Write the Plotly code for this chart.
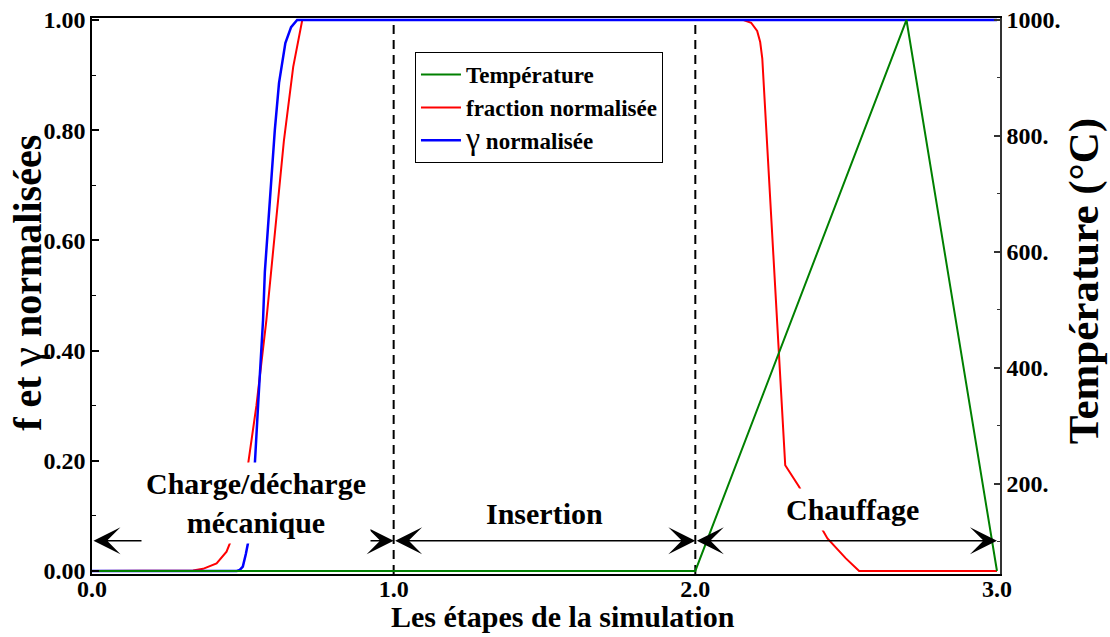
import plotly.graph_objects as go

# --- data -------------------------------------------------------------
etape_temp = [0.0, 2.0, 2.7, 3.0]
temperature = [50, 50, 1000, 50]

etape_fraction = [0.0, 0.30, 0.335, 0.368, 0.413, 0.446, 0.459, 0.48, 0.50,
                  0.5177, 0.545, 0.578, 0.603, 0.636, 0.667, 0.697,
                  2.16, 2.185, 2.205, 2.215, 2.222, 2.26, 2.298, 2.344,
                  2.39, 2.438, 2.499, 2.543, 3.0]
fraction = [0.0, 0.0, 0.001, 0.004, 0.014, 0.035, 0.053, 0.09, 0.14,
            0.195, 0.30, 0.455, 0.60, 0.78, 0.915, 1.0,
            1.0, 0.995, 0.98, 0.96, 0.93, 0.56, 0.192, 0.153,
            0.105, 0.059, 0.023, 0.0, 0.0]

etape_gamma = [0.0, 0.48, 0.49, 0.50, 0.51, 0.518, 0.53, 0.54, 0.551,
               0.567, 0.573, 0.589, 0.606, 0.62, 0.641, 0.66, 0.68, 3.0]
gamma = [0.0, 0.0, 0.002, 0.008, 0.031, 0.053, 0.12, 0.196, 0.305,
         0.455, 0.543, 0.673, 0.80, 0.886, 0.958, 0.987, 1.0, 1.0]

phase_bornes = [0.0, 1.0, 2.0, 3.0]
phase_noms = ["Charge/décharge<br>mécanique", "Insertion", "Chauffage"]
phase_label_x = [0.543, 1.5, 2.52]
phase_label_y = [0.123, 0.105, 0.112]
fleche_y = 0.055

x_ticks = [0.0, 1.0, 2.0, 3.0]
x_ticktext = ["0.0", "1.0", "2.0", "3.0"]
f_ticks = [0.0, 0.2, 0.4, 0.6, 0.8, 1.0]
f_ticktext = ["0.00", "0.20", "0.40", "0.60", "0.80", "1.00"]
t_ticks = [200, 400, 600, 800, 1000]
t_ticktext = ["200.", "400.", "600.", "800.", "1000."]

# --- figure -----------------------------------------------------------
SERIF = "Liberation Serif"


def gamma_glyph(size):
    return f'<span style="font-weight:normal;font-size:{size}px">γ</span>'


fig = go.Figure()

fig.add_trace(go.Scatter(
    x=etape_temp, y=temperature, mode="lines", name="Température",
    line=dict(color="#008000", width=2), yaxis="y2"))
fig.add_trace(go.Scatter(
    x=etape_fraction, y=fraction, mode="lines", name="fraction normalisée",
    line=dict(color="#ff0000", width=2)))
fig.add_trace(go.Scatter(
    x=etape_gamma, y=gamma, mode="lines",
    name=gamma_glyph(32) + " normalisée",
    line=dict(color="#0000ff", width=2.5)))

# phase separators
for xb in phase_bornes[1:-1]:
    fig.add_shape(type="line", xref="x", yref="paper", x0=xb, x1=xb,
                  y0=0, y1=0.993, layer="below",
                  line=dict(color="black", width=2, dash="9px,6px"))

# double-headed arrows spanning each phase
for x0, x1 in zip(phase_bornes[:-1], phase_bornes[1:]):
    fig.add_annotation(
        x=x1, y=fleche_y, ax=x0, ay=fleche_y,
        xref="x", yref="y", axref="x", ayref="y",
        text="", showarrow=True, arrowside="end+start",
        arrowhead=3, startarrowhead=3, arrowsize=3.0, startarrowsize=3.0,
        arrowwidth=1.5, arrowcolor="black", standoff=0, startstandoff=0)

# phase names
for name, lx, ly in zip(phase_noms, phase_label_x, phase_label_y):
    fig.add_annotation(
        x=lx, y=ly, xref="x", yref="y", text=name, showarrow=False,
        bgcolor="white", borderpad=4,
        font=dict(family=SERIF, size=30, color="black", weight="bold"))

# axis titles
fig.add_annotation(
    x=0.5187, y=-0.0773, xref="paper", yref="paper", showarrow=False,
    text="Les étapes de la simulation", xanchor="center", yanchor="middle",
    font=dict(family=SERIF, size=30, color="black", weight="bold"))
fig.add_annotation(
    x=-0.0725, y=0.524, xref="paper", yref="paper", showarrow=False,
    text="f et " + gamma_glyph(44) + " normalisées", textangle=-90,
    xanchor="center", yanchor="middle",
    font=dict(family=SERIF, size=40, color="black", weight="bold"))
fig.add_annotation(
    x=1.0935, y=0.528, xref="paper", yref="paper", showarrow=False,
    text="Température (°C)", textangle=-90,
    xanchor="center", yanchor="middle",
    font=dict(family=SERIF, size=43, color="black", weight="bold"))

fig.update_layout(
    width=1110, height=637,
    margin=dict(l=92, r=110, t=18, b=63, autoexpand=False),
    paper_bgcolor="white", plot_bgcolor="white",
    font=dict(family=SERIF, color="black", size=24, weight="bold"),
    showlegend=True,
    legend=dict(
        x=0.3557, y=0.9388, xanchor="left", yanchor="top",
        bgcolor="white", bordercolor="black", borderwidth=1,
        itemwidth=40,
        font=dict(family=SERIF, size=23, color="black", weight="bold"),
        tracegroupgap=0),
    xaxis=dict(
        range=[0, 3.01], tickvals=x_ticks, ticktext=x_ticktext,
        ticks="", ticklabelstandoff=-8,
        showgrid=False, zeroline=False, automargin=False,
        showline=True, linecolor="black", linewidth=1.5, mirror=True,
        tickfont=dict(family=SERIF, size=24, weight="bold")),
    yaxis=dict(
        range=[-0.0054, 1.0036], tickvals=f_ticks, ticktext=f_ticktext,
        ticks="inside", ticklen=7, tickwidth=1.5, tickcolor="black",
        minor=dict(ticks="inside", ticklen=4, tickwidth=1.2,
                   tickcolor="black", dtick=0.1, showgrid=False),
        showgrid=False, zeroline=False, automargin=False,
        showline=True, linecolor="black", linewidth=1.5,
        tickfont=dict(family=SERIF, size=24, weight="bold")),
    yaxis2=dict(
        overlaying="y", side="right",
        range=[44.8, 1003.4], tickvals=t_ticks, ticktext=t_ticktext,
        ticks="inside", ticklen=6, tickwidth=1.5, tickcolor="#333333",
        minor=dict(ticks="inside", ticklen=3, tickwidth=1.2,
                   tickcolor="#333333", dtick=100, showgrid=False),
        showgrid=False, zeroline=False, automargin=False,
        showline=True, linecolor="#333333", linewidth=1.5,
        tickfont=dict(family=SERIF, size=24, weight="bold")),
)

fig.write_html("out.html")
